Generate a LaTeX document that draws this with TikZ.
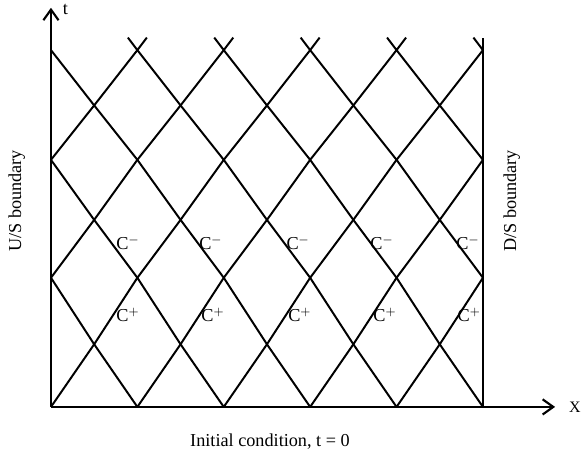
\documentclass[tikz,border=0pt]{standalone}
\usepackage{fontspec}
\setmainfont{Liberation Serif}
\usetikzlibrary{arrows.meta}

\begin{document}
\begin{tikzpicture}[font=\fontsize{12}{14}\selectfont,
    axis/.style={line width=1.4pt,-{Straight Barb[length=7pt,width=10pt]}},
    charline/.style={line width=1.3pt},
    clabel/.style={inner sep=1pt}]
  \useasboundingbox (-1.18,-1.02) rectangle (12.27,9.42);

  % axes and boundaries
  \coordinate (o) at (0,0);
  \coordinate (xend) at (11.67,0);
  \coordinate (tend) at (0,9.24);
  \coordinate (rb) at (10,0);
  \coordinate (rbtop) at (10,8.54);
  \draw[axis] (o) -- (xend);
  \draw[axis] (o) -- (tend);
  \draw[charline] (rb) -- (rbtop);
  \node[inner sep=0pt,font=\fontsize{10.5}{12}\selectfont] (xlab) at (12.13,0) {X};
  \node[anchor=west] (tlab) at (0.15,9.2) {t};
  \node[rotate=90] (us) at (-0.79,4.77) {U/S boundary};
  \node[rotate=90] (ds) at (10.67,4.77) {D/S boundary};
  \node (ic) at (5.07,-0.81) {Initial condition, t = 0};

  % grid points
  \foreach \m/\lev in {0/0,1/1.45,2/2.99,3/4.33,4/5.72,5/6.98,6/8.26}
    \foreach \i in {0,...,10}
      \coordinate (p\i-\m) at (\i,\lev);

  % characteristics
  \foreach \m in {0,...,5} {
    \foreach \i in {0,...,10} {
      \pgfmathtruncatemacro\parity{mod(\i+\m,2)}
      \pgfmathtruncatemacro\n{\m+1}
      \pgfmathtruncatemacro\r{\i+1}
      \pgfmathtruncatemacro\l{\i-1}
      \ifnum\parity=0
        \ifnum\i<10 \draw[charline] (p\i-\m) -- (p\r-\n); \fi
        \ifnum\i>0 \draw[charline] (p\i-\m) -- (p\l-\n); \fi
      \fi
    }
  }
  \foreach \i in {2,4,6,8}
    \draw[charline] ([shift={(-0.22,0.29)}]p\i-6) -- (p\i-6) -- ++(0.22,0.29);
  \draw[charline] (p10-6) -- ++(-0.22,0.29);

  % labels
  \foreach \x [count=\k] in {1.78,3.70,5.72,7.66,9.65}
    \node[clabel] (cm\k) at (\x,3.8) {C$^{-}$};
  \foreach \x [count=\k] in {1.78,3.75,5.76,7.73,9.68}
    \node[clabel] (cp\k) at (\x,2.13) {C$^{+}$};
\end{tikzpicture}
\end{document}
